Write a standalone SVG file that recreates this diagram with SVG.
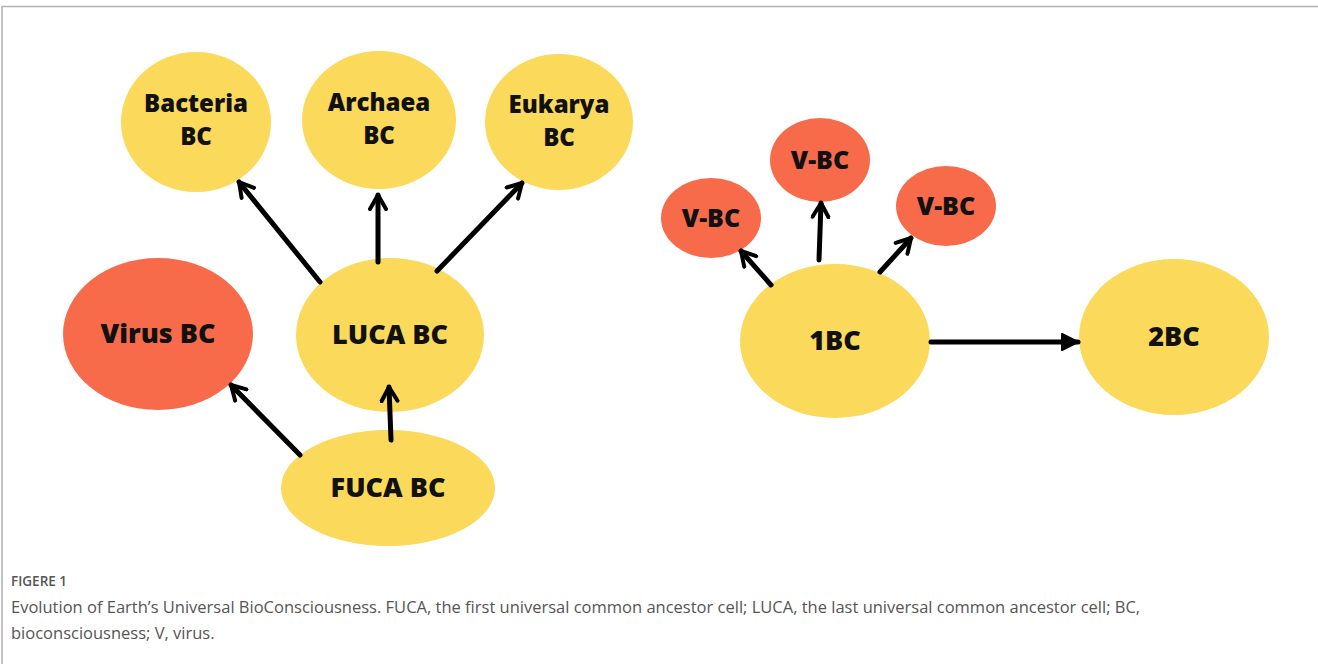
<svg xmlns="http://www.w3.org/2000/svg" width="1318" height="664" viewBox="0 0 1318 664">
  <style>
    .y { fill: #fbd95b; }
    .r { fill: #f76b4b; }
    .lbl { font-family: "Open Sans", "Liberation Sans", sans-serif; font-weight: 800; fill: #111; text-anchor: middle; }
    .edge { stroke: #000; stroke-width: 5; fill: none; stroke-linecap: round; }
    .cap { font-family: "Open Sans", "Liberation Sans", sans-serif; fill: #555; }
  </style>
  <defs>
    <marker id="open" viewBox="0 0 10 10" refX="8" refY="5" markerWidth="4" markerHeight="4" orient="auto" markerUnits="strokeWidth">
      <path d="M1,1 L8,5 L1,9" fill="none" stroke="#000" stroke-width="2" stroke-linecap="round" stroke-linejoin="round"/>
    </marker>
    <marker id="solid" viewBox="0 0 10 10" refX="9" refY="5" markerWidth="4" markerHeight="4" orient="auto" markerUnits="strokeWidth">
      <path d="M1,1 L9,5 L1,9 Z" fill="#000" stroke="#000" stroke-width="1" stroke-linejoin="round"/>
    </marker>
  </defs>

  <rect width="1318" height="664" fill="#fff"/>
  <!-- frame -->
  <path d="M2,664 V6.5 H1318" fill="none" stroke="#b0b0b0" stroke-width="1.5"/>

  <g id="bacteria">
    <ellipse class="y" cx="196" cy="122" rx="75" ry="70"/>
    <text class="lbl" x="196" y="112" font-size="24">Bacteria</text>
    <text class="lbl" x="196" y="145" font-size="24">BC</text>
  </g>
  <g id="archaea">
    <ellipse class="y" cx="379" cy="120" rx="77" ry="69"/>
    <text class="lbl" x="379" y="111" font-size="24">Archaea</text>
    <text class="lbl" x="379" y="144" font-size="24">BC</text>
  </g>
  <g id="eukarya">
    <ellipse class="y" cx="559" cy="122" rx="74" ry="68"/>
    <text class="lbl" x="559" y="113" font-size="24">Eukarya</text>
    <text class="lbl" x="559" y="146" font-size="24">BC</text>
  </g>
  <g id="virus">
    <ellipse class="r" cx="158" cy="334" rx="95" ry="76"/>
    <text class="lbl" x="158" y="343" font-size="27">Virus BC</text>
  </g>
  <g id="luca">
    <ellipse class="y" cx="390" cy="335" rx="94" ry="77"/>
    <text class="lbl" x="390" y="344" font-size="27">LUCA BC</text>
  </g>
  <g id="fuca">
    <ellipse class="y" cx="388" cy="488" rx="107" ry="58"/>
    <text class="lbl" x="388" y="497" font-size="27">FUCA BC</text>
  </g>

  <g id="vbc-left">
    <ellipse class="r" cx="711" cy="218" rx="50" ry="40"/>
    <text class="lbl" x="711" y="227" font-size="25">V-BC</text>
  </g>
  <g id="vbc-top">
    <ellipse class="r" cx="820" cy="160" rx="50" ry="42"/>
    <text class="lbl" x="820" y="169" font-size="25">V-BC</text>
  </g>
  <g id="vbc-right">
    <ellipse class="r" cx="946" cy="206" rx="50" ry="40"/>
    <text class="lbl" x="946" y="215" font-size="25">V-BC</text>
  </g>
  <g id="bc1">
    <ellipse class="y" cx="835" cy="341" rx="95" ry="77"/>
    <text class="lbl" x="835" y="350" font-size="27">1BC</text>
  </g>
  <g id="bc2">
    <ellipse class="y" cx="1174" cy="337" rx="95" ry="78"/>
    <text class="lbl" x="1174" y="346" font-size="27">2BC</text>
  </g>

  <!-- connectors, drawn over the nodes -->
  <g id="connectors">
    <line class="edge" x1="320" y1="282" x2="239" y2="182" marker-end="url(#open)"/>
    <line class="edge" x1="378" y1="262" x2="378" y2="195" marker-end="url(#open)"/>
    <line class="edge" x1="437" y1="271" x2="522" y2="183" marker-end="url(#open)"/>
    <line class="edge" x1="300" y1="455" x2="231" y2="385" marker-end="url(#open)"/>
    <line class="edge" x1="391" y1="440" x2="389" y2="387" marker-end="url(#open)"/>
    <line class="edge" x1="771" y1="285" x2="741" y2="251" marker-end="url(#open)"/>
    <line class="edge" x1="819" y1="260" x2="821" y2="203" marker-end="url(#open)"/>
    <line class="edge" x1="880" y1="272" x2="911" y2="238" marker-end="url(#open)"/>
    <line class="edge" x1="931" y1="342" x2="1078" y2="342" marker-end="url(#solid)"/>
  </g>

  <!-- caption -->
  <text class="cap" x="11" y="586" font-size="13.5" font-weight="600" fill="#666">FIGERE 1</text>
  <text class="cap" x="11" y="613" font-size="16.5">Evolution of Earth’s Universal BioConsciousness. FUCA, the first universal common ancestor cell; LUCA, the last universal common ancestor cell; BC,</text>
  <text class="cap" x="11" y="639" font-size="16.5">bioconsciousness; V, virus.</text>
</svg>
